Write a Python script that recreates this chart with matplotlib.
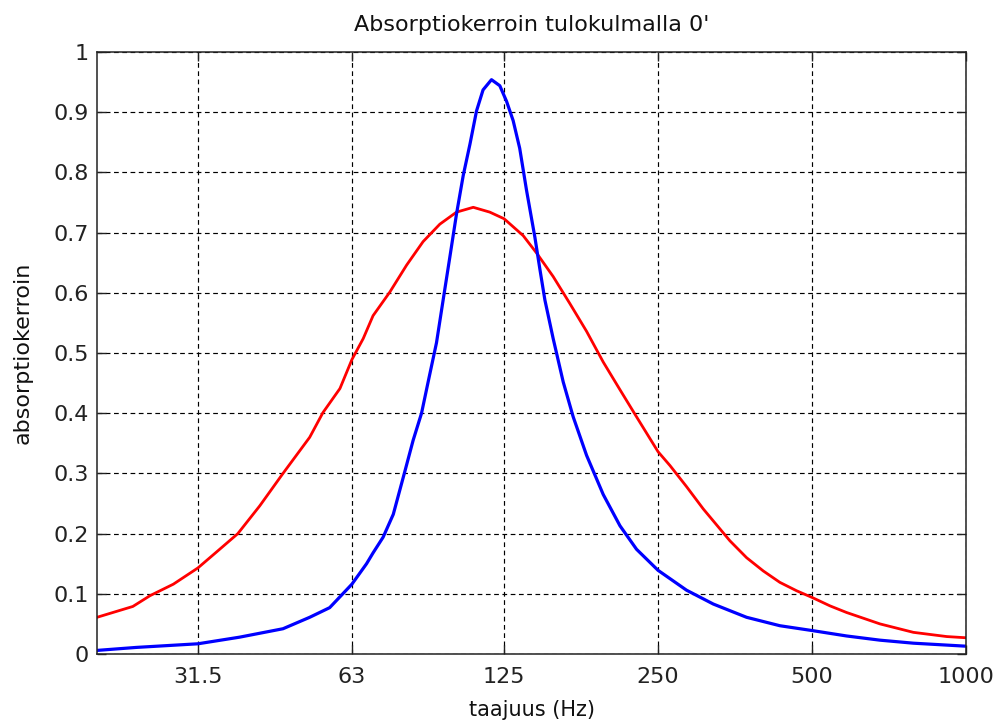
import matplotlib
matplotlib.use("Agg")
import matplotlib.pyplot as plt

# frequencies (Hz) and absorption
freq_red = [20, 23.5, 25.4, 28.2, 31.5, 34.2, 37.7, 41.6, 46.2, 52.1, 55.3, 59.7, 63,
            66.3, 69.3, 74.7, 80.6, 86.8, 93.6, 100.9, 108.8, 117.2, 125, 136.2, 144.7,
            155.9, 168.1, 181.2, 195.3, 210.6, 226.9, 250, 263.8, 284.2, 306.4, 320.6,
            345.5, 372.4, 401.4, 432.6, 466.6, 500, 542, 584, 679, 789, 917, 1000]
alpha_red = [0.061, 0.079, 0.097, 0.116, 0.143, 0.169, 0.200, 0.246, 0.300, 0.360, 0.401,
             0.441, 0.489, 0.524, 0.562, 0.601, 0.646, 0.685, 0.714, 0.734, 0.742, 0.734,
             0.723, 0.695, 0.666, 0.627, 0.582, 0.536, 0.485, 0.439, 0.394, 0.336, 0.313,
             0.278, 0.241, 0.221, 0.188, 0.160, 0.138, 0.119, 0.105, 0.094, 0.080, 0.069,
             0.050, 0.036, 0.029, 0.027]

freq_blue = [20, 23.9, 31.5, 38.0, 46.2, 52.1, 57.0, 59.7, 63, 67.3, 69.3, 72.5, 75.9,
             80.0, 83.0, 86.2, 88.8, 92.2, 95.0, 97.9, 100.9, 104.0, 107.2, 110.4, 113.7,
             118.1, 122.6, 126.4, 130.2, 134.1, 138.3, 143.6, 146.8, 150.2, 155.9, 163.1,
             170.6, 181.2, 195.3, 210.6, 226.9, 250, 284.2, 320.6, 345.5, 372.4, 432.6,
             500, 584, 679, 789, 1000]
alpha_blue = [0.006, 0.011, 0.017, 0.028, 0.042, 0.061, 0.077, 0.095, 0.116, 0.150, 0.168,
              0.194, 0.232, 0.304, 0.355, 0.400, 0.452, 0.517, 0.588, 0.659, 0.731, 0.795,
              0.847, 0.902, 0.937, 0.954, 0.944, 0.918, 0.886, 0.840, 0.770, 0.692, 0.640,
              0.588, 0.524, 0.452, 0.394, 0.330, 0.265, 0.213, 0.174, 0.139, 0.106, 0.083,
              0.072, 0.061, 0.047, 0.039, 0.030, 0.023, 0.018, 0.013]

xticks = [31.5, 63, 125, 250, 500, 1000]
xtick_labels = ["31.5", "63", "125", "250", "500", "1000"]
yticks = [0, 0.1, 0.2, 0.3, 0.4, 0.5, 0.6, 0.7, 0.8, 0.9, 1]
ytick_labels = ["0", "0.1", "0.2", "0.3", "0.4", "0.5", "0.6", "0.7", "0.8", "0.9", "1"]

plt.rcParams['font.family'] = ['DejaVu Sans']
plt.rcParams['font.size'] = 16

fig = plt.figure(figsize=(9.96, 7.25), dpi=100)
ax = fig.add_axes([0.0974, 0.0979, 0.8725, 0.8304])

ax.plot(freq_red, alpha_red, color='#ff0000', lw=2.0)
ax.plot(freq_blue, alpha_blue, color='#0000ff', lw=2.3)

ax.set_xscale('log')
ax.set_xlim(20, 1000)
ax.set_ylim(0, 1)
ax.set_xticks(xticks)
ax.set_xticklabels(xtick_labels)
ax.minorticks_off()
ax.set_yticks(yticks)
ax.set_yticklabels(ytick_labels)

ax.grid(True, color='black', linestyle=(0, (4, 3)), linewidth=0.85)
ax.tick_params(direction='in', length=6.5, width=1, top=True, right=True,
               colors='#222222', labelcolor='#222222')
ax.tick_params(axis='x', pad=9)
ax.tick_params(axis='y', pad=6)
for s in ax.spines.values():
    s.set_linewidth(1.1)
    s.set_color('#222222')

ax.set_title("Absorptiokerroin tulokulmalla 0'", pad=15, color='#111111', fontsize=16)
ax.set_xlabel("taajuus (Hz)", labelpad=10, color='#111111', fontsize=15)
ax.set_ylabel("absorptiokerroin", color='#111111', fontsize=16)
ax.yaxis.set_label_coords(-0.074, 0.5)

fig.savefig("out.png", dpi=100, facecolor='white')
